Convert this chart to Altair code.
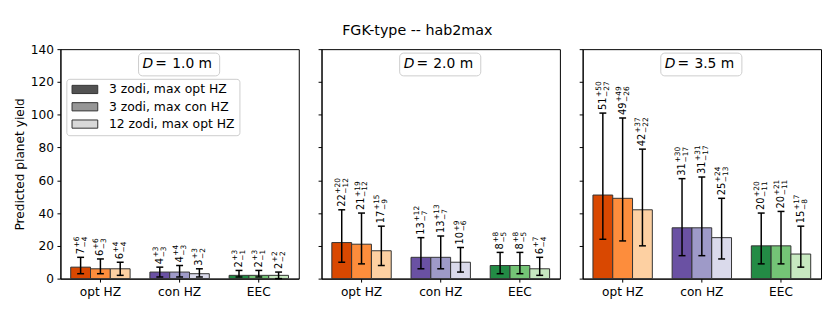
import altair as alt
import pandas as pd

title_text = "FGK-type -- hab2max"
y_title = "Predicted planet yield"
categories = ["opt HZ", "con HZ", "EEC"]
series = ["3 zodi, max opt HZ", "3 zodi, max con HZ", "12 zodi, max opt HZ"]
diameters = ["1.0", "2.0", "3.5"]

yield_d10 = [7, 6, 6, 4, 4, 3, 2, 2, 2]
plus_d10 = [6, 6, 4, 3, 4, 3, 3, 3, 2]
minus_d10 = [4, 3, 4, 3, 3, 2, 1, 1, 2]

yield_d20 = [22, 21, 17, 13, 13, 10, 8, 8, 6]
plus_d20 = [20, 19, 15, 12, 13, 9, 8, 8, 7]
minus_d20 = [12, 12, 9, 7, 7, 6, 5, 5, 4]

yield_d35 = [51, 49, 42, 31, 31, 25, 20, 20, 15]
plus_d35 = [50, 49, 37, 30, 31, 24, 20, 21, 17]
minus_d35 = [27, 26, 22, 17, 17, 13, 11, 11, 8]

bar_colors = ["#d94801", "#fd8d3c", "#fdd0a2",
              "#6a51a3", "#9e9ac8", "#dadaeb",
              "#238b45", "#74c476", "#c7e9c0"]
legend_colors = ["#525252", "#969696", "#d9d9d9"]
y_ticks = [0, 20, 40, 60, 80, 100, 120, 140]

FONT = "DejaVu Sans"
FS = 12.3
W, H = 241, 232


def build_df(yv, pv, mv):
    rows = []
    for k in range(9):
        rows.append({
            "category": categories[k // 3],
            "series": series[k % 3],
            "value": yv[k],
            "lo": yv[k] - mv[k],
            "hi": yv[k] + pv[k],
            "main": str(yv[k]),
            "sup": "+" + str(pv[k]),
            "sub": "\u2212" + str(mv[k]),
            "nd": len(str(yv[k])),
            "color": bar_colors[k],
        })
    return pd.DataFrame(rows)


def make_panel(idx, yv, pv, mv, d):
    df = build_df(yv, pv, mv)
    xenc = alt.X("category:N", sort=categories,
                 scale=alt.Scale(domain=categories, paddingInner=0.25, paddingOuter=0.13),
                 axis=alt.Axis(title=None, labelAngle=0, labelFontSize=FS,
                               labelPadding=3.5, tickSize=3.5))
    xoff = alt.XOffset("series:N", sort=series,
                       scale=alt.Scale(domain=series, paddingInner=0, paddingOuter=0))
    yscale = alt.Scale(domain=[0, 140], nice=False, zero=True)
    if idx == 0:
        yaxis = alt.Axis(values=y_ticks, title=y_title, labelFontSize=FS, titleFontSize=FS,
                         tickSize=3.5, labelPadding=3.5, titlePadding=4,
                         labelOverlap=False)
    else:
        yaxis = alt.Axis(values=y_ticks, title=None, labels=False, tickSize=3.5)

    def Y(field):
        return alt.Y(field, scale=yscale, axis=yaxis)

    base = alt.Chart(df).encode(x=xenc, xOffset=xoff)
    bars = base.mark_bar(stroke="#333333", strokeWidth=1).encode(
        y=Y("value:Q"),
        fill=alt.Fill("color:N", scale=None),
    )
    rules = base.mark_rule(color="black", strokeWidth=1.5).encode(y=Y("lo:Q"), y2="hi:Q")
    cap_lo = base.mark_tick(color="black", thickness=1.5, size=7, opacity=1).encode(y=Y("lo:Q"))
    cap_hi = base.mark_tick(color="black", thickness=1.5, size=7, opacity=1).encode(y=Y("hi:Q"))
    main_txt = base.mark_text(angle=270, align="left", baseline="middle", dx=3,
                              fontSize=10, font=FONT, color="black").encode(
        y=Y("hi:Q"), text="main:N")
    layers = [bars, rules, cap_lo, cap_hi, main_txt]
    for nd in (1, 2):
        off = 3 + 6.4 * nd + 0.5
        f = base.transform_filter(alt.datum.nd == nd)
        layers.append(f.mark_text(angle=270, align="left", baseline="middle", dx=off, dy=-4,
                                  fontSize=7.5, font=FONT, color="black").encode(
            y=Y("hi:Q"), text="sup:N"))
        layers.append(f.mark_text(angle=270, align="left", baseline="middle", dx=off, dy=4,
                                  fontSize=7.5, font=FONT, color="black").encode(
            y=Y("hi:Q"), text="sub:N"))

    ddf = pd.DataFrame({"d": [d + " m"]})
    dbase = alt.Chart(ddf)
    box = dbase.mark_rect(fill="white", stroke="#cccccc", strokeWidth=1, cornerRadius=4).encode(
        x=alt.value(79), x2=alt.value(161), y=alt.value(4), y2=alt.value(27))
    dtxt = dbase.mark_text(align="left", baseline="middle", fontSize=14, font=FONT,
                           fontStyle="italic", color="black").encode(
        x=alt.value(83), y=alt.value(15.5), text=alt.value("D"))
    eqtxt = dbase.mark_text(align="left", baseline="middle", fontSize=14, font=FONT,
                            color="black").encode(
        x=alt.value(96), y=alt.value(15.5), text=alt.value("="))
    vtxt = dbase.mark_text(align="left", baseline="middle", fontSize=14, font=FONT,
                           color="black").encode(
        x=alt.value(113), y=alt.value(15.5), text="d:N")
    layers += [box, dtxt, eqtxt, vtxt]

    if idx == 0:
        ldf = pd.DataFrame({"series": series, "value": [0, 0, 0]})
        leg = alt.Chart(ldf).mark_bar(strokeWidth=0).encode(
            y=Y("value:Q"),
            color=alt.Color("series:N", sort=series,
                            scale=alt.Scale(domain=series, range=legend_colors),
                            legend=alt.Legend(
                                title=None, orient="none", legendX=6, legendY=30,
                                fillColor="white", strokeColor="#cccccc", cornerRadius=3,
                                padding=4.5, symbolType="M-1,-0.83H4.2V0.83H-1Z",
                                symbolSize=100, symbolStrokeColor="#333333",
                                symbolStrokeWidth=1, symbolOpacity=1,
                                labelFontSize=12.5, labelFont=FONT, labelColor="black",
                                labelOffset=26, rowPadding=4.5)),
        )
        layers.append(leg)

    return alt.layer(*layers).properties(width=W, height=H)


panels = [
    make_panel(0, yield_d10, plus_d10, minus_d10, diameters[0]),
    make_panel(1, yield_d20, plus_d20, minus_d20, diameters[1]),
    make_panel(2, yield_d35, plus_d35, minus_d35, diameters[2]),
]

chart = alt.hconcat(*panels, spacing=17).resolve_scale(color="independent").properties(
    title=alt.TitleParams(title_text, fontSize=14.4, font=FONT, fontWeight="normal",
                          anchor="middle", frame="bounds", offset=4, color="black"),
    padding={"left": 5, "top": 14, "right": 0, "bottom": 0},
).configure_view(stroke="black", strokeWidth=1).configure_axis(
    labelFont=FONT, titleFont=FONT, titleFontWeight="normal", titleFontSize=FS,
    domainColor="black", tickColor="black", labelColor="black", titleColor="black",
    grid=False,
)

chart.save("out.html", embed_options={"renderer": "svg", "actions": False})
